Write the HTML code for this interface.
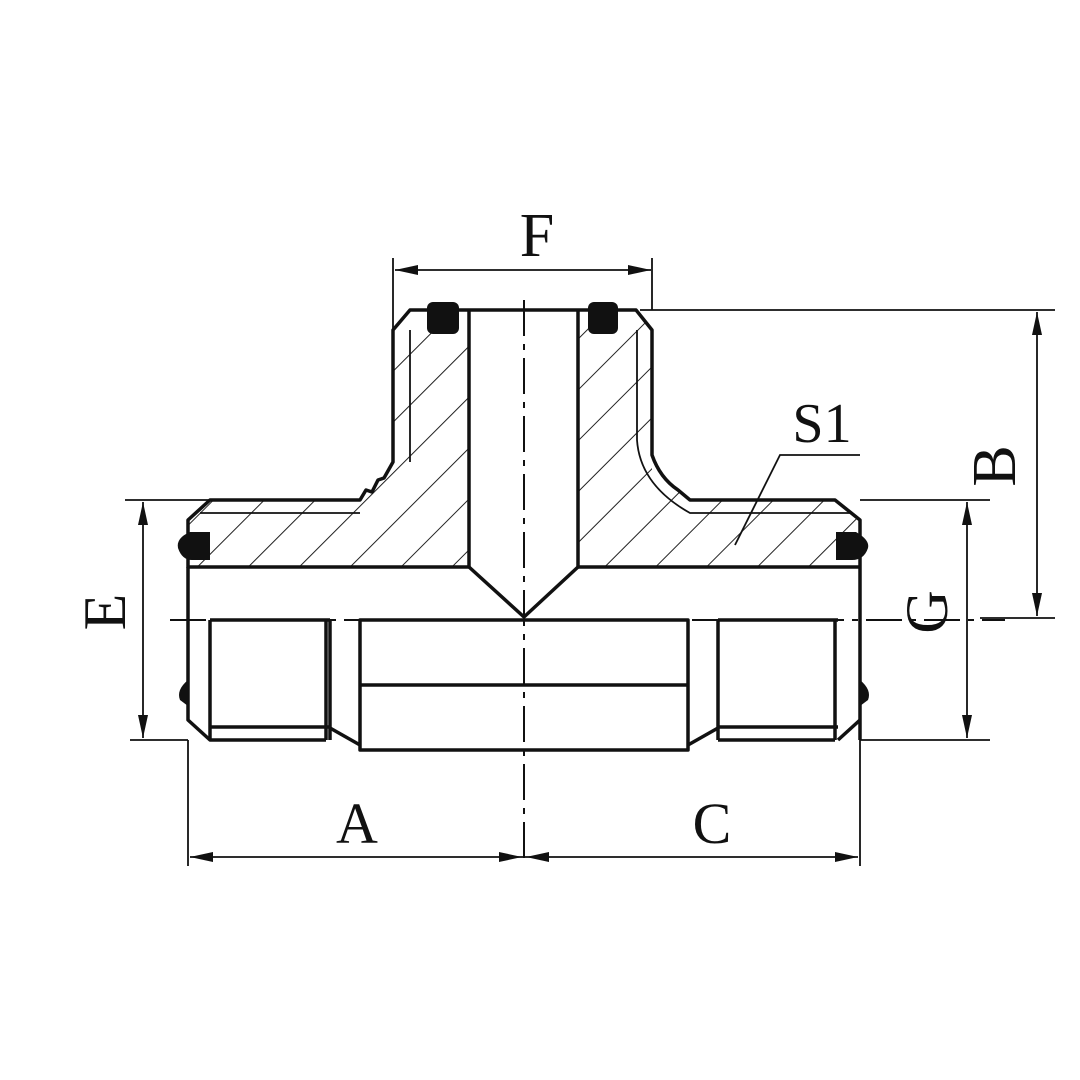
<!DOCTYPE html>
<html><head><meta charset="utf-8"><style>
html,body{margin:0;padding:0;background:#fff;}
svg{display:block;}
text{font-family:"Liberation Serif",serif;fill:#111;}
</style></head><body>
<svg width="1080" height="1080" viewBox="0 0 1080 1080" xmlns="http://www.w3.org/2000/svg">
<defs>
<pattern id="h" patternUnits="userSpaceOnUse" width="36" height="36" patternTransform="rotate(-45)">
<line x1="0" y1="0" x2="36" y2="0" stroke="#222" stroke-width="2"/>
</pattern>
<clipPath id="bodyclip">
<path d="M410,310 L469,310 L469,567 L188,567 L188,520 L210,500 L360,500 L380,470 L393,462 L393,330 Z"/>
<path d="M578,310 L636,310 L652,330 L652,470 L690,500 L835,500 L860,520 L860,567 L578,567 Z"/>
</clipPath>
</defs>
<rect width="1080" height="1080" fill="#fff"/>
<g clip-path="url(#bodyclip)"><rect x="180" y="300" width="700" height="280" fill="url(#h)"/></g>
<g fill="none" stroke="#111" stroke-width="3.5" stroke-linejoin="round">
<path d="M469,567 L188,567 L188,520 L210,500 L360,500 L366,490 L372,492 L378,480 L384,478 L393,462 L393,330 L410,310 L636,310 L652,330 L652,455 Q660,478 678,490 L690,500 L835,500 L860,520 L860,740"/>
<line x1="469" y1="310" x2="469" y2="567"/>
<line x1="578" y1="310" x2="578" y2="567"/>
<line x1="578" y1="567" x2="860" y2="567"/>
<path d="M469,567 L524,617 L578,567"/>
<path d="M188,567 L188,720 L210,740 L326,740"/>
<line x1="210" y1="620" x2="210" y2="740"/>
<line x1="326" y1="620" x2="326" y2="740"/>
<line x1="330" y1="620" x2="330" y2="740"/>
<line x1="210" y1="727" x2="330" y2="727"/>
<path d="M330,728 L360,745"/>
<rect x="360" y="620" width="328" height="130"/>
<line x1="360" y1="685" x2="688" y2="685"/>
<path d="M688,745 L718,728"/>
<line x1="718" y1="620" x2="718" y2="740"/>
<line x1="835" y1="620" x2="835" y2="740"/>
<line x1="718" y1="740" x2="835" y2="740"/>
<line x1="718" y1="727" x2="838" y2="727"/>
<path d="M838,740 L860,720"/>
<line x1="210" y1="620" x2="330" y2="620"/>
<line x1="718" y1="620" x2="838" y2="620"/>
</g>
<g fill="none" stroke="#111" stroke-width="1.8">
<line x1="410" y1="330" x2="410" y2="462"/>
<line x1="637" y1="330" x2="637" y2="440"/>
<path d="M637,440 Q640,485 690,513 L850,513"/>
<line x1="200" y1="513" x2="360" y2="513"/>
</g>
<g fill="#111">
<rect x="427" y="302" width="32" height="32" rx="6"/>
<rect x="588" y="302" width="30" height="32" rx="6"/>
<path d="M210,532 L190,532 Q176,538 178,548 Q182,560 192,560 L210,560 Z"/>
<path d="M836,532 L856,532 Q870,540 868,548 Q864,560 852,560 L836,560 Z"/>
<path d="M188,680 Q176,690 180,700 L188,706 Z"/>
<path d="M860,680 Q872,690 868,700 L860,706 Z"/>
</g>
<g stroke="#111" stroke-width="2" fill="none" stroke-dasharray="36,8,6,8">
<line x1="170" y1="620" x2="1005" y2="620"/>
<line x1="524" y1="300" x2="524" y2="865"/>
</g>
<g stroke="#111" stroke-width="1.8" fill="none">
<line x1="393" y1="258" x2="393" y2="330"/>
<line x1="652" y1="258" x2="652" y2="310"/>
<line x1="395" y1="270" x2="651" y2="270"/>
<line x1="640" y1="310" x2="1055" y2="310"/>
<line x1="980" y1="618" x2="1055" y2="618"/>
<line x1="1037" y1="312" x2="1037" y2="616"/>
<line x1="860" y1="500" x2="990" y2="500"/>
<line x1="860" y1="740" x2="990" y2="740"/>
<line x1="967" y1="502" x2="967" y2="738"/>
<line x1="125" y1="500" x2="210" y2="500"/>
<line x1="130" y1="740" x2="188" y2="740"/>
<line x1="143" y1="502" x2="143" y2="738"/>
<line x1="188" y1="740" x2="188" y2="866"/>
<line x1="860" y1="740" x2="860" y2="866"/>
<line x1="190" y1="857" x2="858" y2="857"/>
<path d="M860,455 L780,455 L735,545"/>
</g>
<g fill="#111">
<path d="M395,270 L418,265 L418,275 Z"/><path d="M651,270 L628,265 L628,275 Z"/>
<path d="M1037,312 L1032,335 L1042,335 Z"/><path d="M1037,616 L1032,593 L1042,593 Z"/>
<path d="M967,502 L962,525 L972,525 Z"/><path d="M967,738 L962,715 L972,715 Z"/>
<path d="M143,502 L138,525 L148,525 Z"/><path d="M143,738 L138,715 L148,715 Z"/>
<path d="M190,857 L213,852 L213,862 Z"/><path d="M858,857 L835,852 L835,862 Z"/>
<path d="M522,857 L499,852 L499,862 Z"/><path d="M526,857 L549,852 L549,862 Z"/>
</g>
<text x="537" y="256" font-size="62" text-anchor="middle">F</text>
<text x="822" y="442" font-size="56" text-anchor="middle">S1</text>
<text x="357" y="843" font-size="58" text-anchor="middle">A</text>
<text x="712" y="843" font-size="58" text-anchor="middle">C</text>
<text transform="translate(1015,466) rotate(-90)" font-size="62" text-anchor="middle">B</text>
<text transform="translate(125,612) rotate(-90)" font-size="60" text-anchor="middle">E</text>
<text transform="translate(947,612) rotate(-90)" font-size="60" text-anchor="middle">G</text>
</svg>
</body></html>
